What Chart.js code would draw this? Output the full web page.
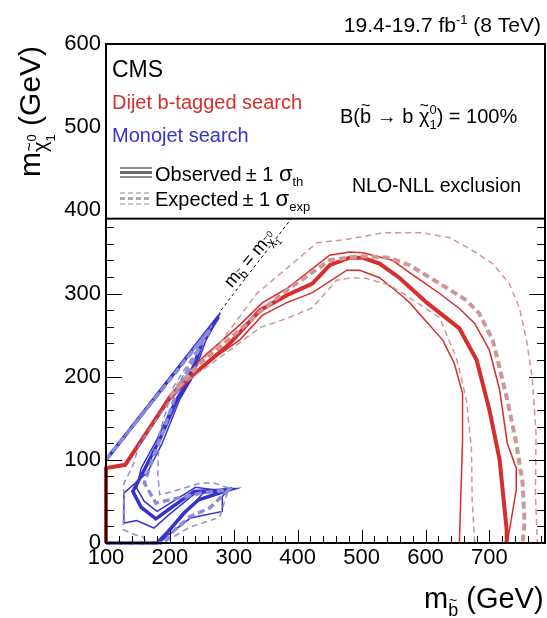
<!DOCTYPE html>
<html>
<head>
<meta charset="utf-8">
<script src="https://cdn.jsdelivr.net/npm/chart.js@4/dist/chart.umd.min.js"></script>
<style>
  html, body { margin: 0; padding: 0; background: #fff; }
  canvas { display: block; }
</style>
</head>
<body>
<canvas id="chart" width="547" height="618"></canvas>
<script>
// tick labels
const xTicks = [100, 200, 300, 400, 500, 600, 700];
const yTicks = [0, 100, 200, 300, 400, 500, 600];

// dijet b-tagged search (red), [m_sbottom, m_lsp]
const dijetObs = [[100,0],[100,90],[130,94],[200,175],[227,196],[294,240],[341,280],[383,298],[423,312],[450,334],[481,343],[502,343],[528,336],[559,319],[602,289],[653,258],[680,220],[700,160],[716,100],[727,16],[727,0]];
const dijetObsUp = [[100,0],[100,90],[130,94],[200,178],[250,222],[309,262],[345,289],[383,306],[450,346],[481,350],[502,349],[548,340],[575,325],[622,300],[653,282],[677,264],[700,232],[716,184],[728,120],[742,90],[742,64],[728,0]];
const dijetObsDown = [[100,0],[100,90],[130,94],[200,172],[250,212],[309,244],[345,274],[383,289],[423,301],[477,328],[497,328],[528,319],[559,300],[575,289],[627,244],[645,216],[658,180],[658,124],[653,0]];
const dijetExp = [[200,176],[250,218],[300,250],[341,278],[383,304],[450,340],[497,345],[544,343],[575,334],[622,312],[664,292],[684,276],[705,244],[713,220],[728,172],[742,120],[752,72],[755,24],[752,0]];
const dijetExpUp = [[210,190],[278,240],[336,300],[398,340],[430,361],[477,365],[533,373],[595,373],[638,367],[673,352],[705,336],[731,312],[747,283],[758,244],[767,199],[773,132],[772,60],[775,0]];
const dijetExpDown = [[215,188],[294,232],[341,259],[383,270],[423,283],[461,316],[486,319],[508,318],[544,310],[575,295],[622,271],[648,223],[653,208],[664,172],[672,112],[673,52],[677,0]];

// monojet search (blue)
const monoObs = [[100,100],[276,272],[250,240],[231,196],[211,172],[184,124],[160,88],[142,62],[155,43],[178,29],[203,43],[238,62],[293,64],[245,52],[222,36],[195,12],[180,0],[100,0]];
const monoObsUp = [[100,100],[279,277],[256,243],[236,200],[215,172],[188,120],[165,85],[128,60],[128,24],[148,27],[175,18],[200,35],[240,60],[295,66],[282,56],[282,38],[232,30],[190,5],[175,0],[100,0]];
const monoObsDown = [[100,100],[273,268],[247,238],[227,195],[207,170],[180,125],[155,90],[148,66],[160,50],[180,38],[205,50],[240,67],[290,62],[252,60],[236,46],[200,15],[185,0],[100,0]];
const monoExp = [[100,100],[262,256],[247,235],[212,185],[190,135],[172,100],[160,72],[178,48],[212,54],[250,60],[292,64],[262,42],[232,32],[205,14],[190,0],[100,0]];
const monoExpUp = [[100,100],[266,262],[252,244],[205,187],[183,130],[181,84],[184,58],[205,62],[247,72],[269,72],[292,66],[278,31],[231,19],[200,5],[190,0],[100,0]];
const monoExpDown = [[100,100],[258,252],[240,228],[200,172],[153,120],[141,91],[128,72],[127,16],[145,10],[157,8],[165,0],[100,0]];

// m_sbottom = m_lsp line
const diagonal = [[280,280],[420,420]];

const RED = 'rgb(214,45,45)';
const RED_EXP = 'rgb(206,150,150)';
const BLUE = 'rgb(52,52,205)';
const BLUE_EXP = 'rgb(140,140,215)';
const FONT = '"Liberation Sans", Arial, Helvetica, sans-serif';

function curve(arr, color, width, dash) {
    return {
        data: arr.map(p => ({ x: p[0], y: p[1] })),
        borderColor: color,
        borderWidth: width,
        borderDash: dash || [],
        showLine: true,
        pointRadius: 0,
        fill: false,
        tension: 0,
        clip: 6
    };
}

// draw a run of text pieces: [text, size, dy, tilde, noAdvance]
function rich(ctx, x, y, pieces, measureOnly) {
    let cx = x;
    pieces.forEach(p => {
        const [t, size, dy, tilde] = p;
        ctx.font = size + 'px ' + FONT;
        const w = ctx.measureText(t).width;
        if (!measureOnly) {
            ctx.fillText(t, cx, y + (dy || 0));
            if (tilde) {
                ctx.font = Math.round(size * 0.8) + 'px ' + FONT;
                const tw = ctx.measureText('~').width;
                ctx.fillText('~', cx + (w - tw) / 2, y + (dy || 0) - size * 0.62);
            }
        }
        if (!p[4]) cx += w;
    });
    return cx - x;
}

const decor = {
    id: 'decor',
    afterDatasetsDraw(chart) {
        const { ctx, chartArea: a, scales: { x, y } } = chart;
        ctx.save();
        ctx.strokeStyle = '#000';
        ctx.lineWidth = 1;
        ctx.beginPath();
        for (let v = 100; v <= 786; v += 20) {
            const px = Math.round(x.getPixelForValue(v)) + 0.5;
            const L = v % 100 === 0 ? 13 : 7;
            ctx.moveTo(px, a.bottom); ctx.lineTo(px, a.bottom - L);
        }
        for (let v = 0; v <= 600; v += 20) {
            const py = Math.round(y.getPixelForValue(v)) + 0.5;
            const L = v % 100 === 0 ? 16 : 8;
            ctx.moveTo(a.left, py); ctx.lineTo(a.left + L, py);
            ctx.moveTo(a.right, py); ctx.lineTo(a.right - L, py);
        }
        ctx.stroke();

        // legend box
        const ly = y.getPixelForValue(390);
        ctx.fillStyle = '#fff';
        ctx.fillRect(a.left, a.top, a.right - a.left, ly - a.top);
        ctx.lineWidth = 2;
        ctx.strokeRect(a.left, a.top, a.right - a.left, ly - a.top);
        ctx.strokeRect(a.left, a.top, a.right - a.left, a.bottom - a.top);

        ctx.textBaseline = 'alphabetic';
        ctx.fillStyle = '#000';
        rich(ctx, 112, 77, [['CMS', 23]]);
        ctx.fillStyle = RED;
        rich(ctx, 112, 109, [['Dijet b-tagged search', 20]]);
        ctx.fillStyle = BLUE;
        rich(ctx, 112, 142, [['Monojet search', 20]]);

        // legend samples
        ctx.strokeStyle = 'rgb(105,105,105)';
        [[168, 1.5], [172.5, 3], [177, 1.5]].forEach(l => {
            ctx.lineWidth = l[1];
            ctx.beginPath(); ctx.moveTo(120, l[0]); ctx.lineTo(152, l[0]); ctx.stroke();
        });
        ctx.strokeStyle = 'rgb(175,175,175)';
        ctx.setLineDash([5, 3]);
        [[193, 1.5], [198.5, 3], [204, 1.5]].forEach(l => {
            ctx.lineWidth = l[1];
            ctx.beginPath(); ctx.moveTo(120, l[0]); ctx.lineTo(152, l[0]); ctx.stroke();
        });
        ctx.setLineDash([]);
        ctx.fillStyle = '#000';
        rich(ctx, 155, 181, [['Observed', 20], ['\u2009\u00b1 1 ', 20], ['\u03c3', 22], ['th', 13, 5]]);
        rich(ctx, 155, 206, [['Expected', 20], ['\u2009\u00b1 1 ', 20], ['\u03c3', 22], ['exp', 13, 5]]);

        rich(ctx, 340, 123, [['B(', 20], ['b', 20, 0, true], [' \u2192 b ', 20], ['\u03c7', 20, 0, true], ['0', 13, -9, false, true], ['1', 13, 6], [') = 100%', 20]]);
        rich(ctx, 352, 192, [['NLO-NLL exclusion', 19.5]]);

        // header
        const head = [['19.4-19.7 fb', 21], ['-1', 13, -8], [' (8 TeV)', 21]];
        const hw = rich(ctx, 0, 0, head, true);
        rich(ctx, 541 - hw, 32, head);

        // x title
        rich(ctx, 424, 608, [['m', 29], ['b', 18, 8, true], [' (GeV)', 29]]);

        // y title
        ctx.save();
        ctx.translate(40, 177);
        ctx.rotate(-Math.PI / 2);
        rich(ctx, 0, 0, [['m', 30], ['\u03c7', 20, 7, true], ['0', 13, -4, false, true], ['1', 13, 15], [' (GeV)', 30]]);
        ctx.restore();

        // diagonal label
        ctx.save();
        ctx.translate(250, 259);
        ctx.rotate(-50 * Math.PI / 180);
        const dl = [['m', 18], ['b', 12, 4, true], [' = m', 18], ['\u03c7', 12, 4, true], ['0', 9, -3, false, true], ['1', 9, 9]];
        const dw = rich(ctx, 0, 0, dl, true);
        rich(ctx, -dw / 2, 5, dl);
        ctx.restore();

        ctx.restore();
    }
};

new Chart(document.getElementById('chart'), {
    type: 'scatter',
    data: {
        datasets: [
            curve(dijetExpUp, RED_EXP, 1.5, [6, 4]),
            curve(dijetExpDown, RED_EXP, 1.5, [6, 4]),
            curve(dijetExp, RED_EXP, 4, [7, 4]),
            curve(monoExpUp, BLUE_EXP, 1.5, [6, 4]),
            curve(monoExpDown, BLUE_EXP, 1.5, [6, 4]),
            curve(monoExp, BLUE_EXP, 3.5, [7, 4]),
            curve(dijetObsUp, RED, 1.5),
            curve(dijetObsDown, RED, 1.5),
            curve(dijetObs, RED, 4),
            curve(monoObsUp, BLUE, 1.5),
            curve(monoObsDown, BLUE, 1.5),
            curve(monoObs, BLUE, 3.5),
            curve(diagonal, '#000', 1, [3, 3])
        ]
    },
    options: {
        responsive: false,
        animation: false,
        devicePixelRatio: 1,
        layout: { padding: { left: 0, right: 2, top: 44, bottom: 0 } },
        plugins: { legend: { display: false }, tooltip: { enabled: false } },
        scales: {
            x: {
                type: 'linear', min: 100, max: 787,
                grid: { display: false, drawTicks: false },
                border: { display: false },
                afterBuildTicks: s => { s.ticks = xTicks.map(v => ({ value: v })); },
                afterFit: s => { s.height = 75; },
                ticks: { color: '#000', padding: 2, maxRotation: 0, autoSkip: false, font: { size: 22, family: FONT } }
            },
            y: {
                type: 'linear', min: 0, max: 600,
                grid: { display: false, drawTicks: false },
                border: { display: false },
                afterBuildTicks: s => { s.ticks = yTicks.map(v => ({ value: v })); },
                afterFit: s => { s.width = 106; },
                ticks: { color: '#000', padding: 5, autoSkip: false, font: { size: 22, family: FONT } }
            }
        }
    },
    plugins: [decor]
});
</script>
</body>
</html>
